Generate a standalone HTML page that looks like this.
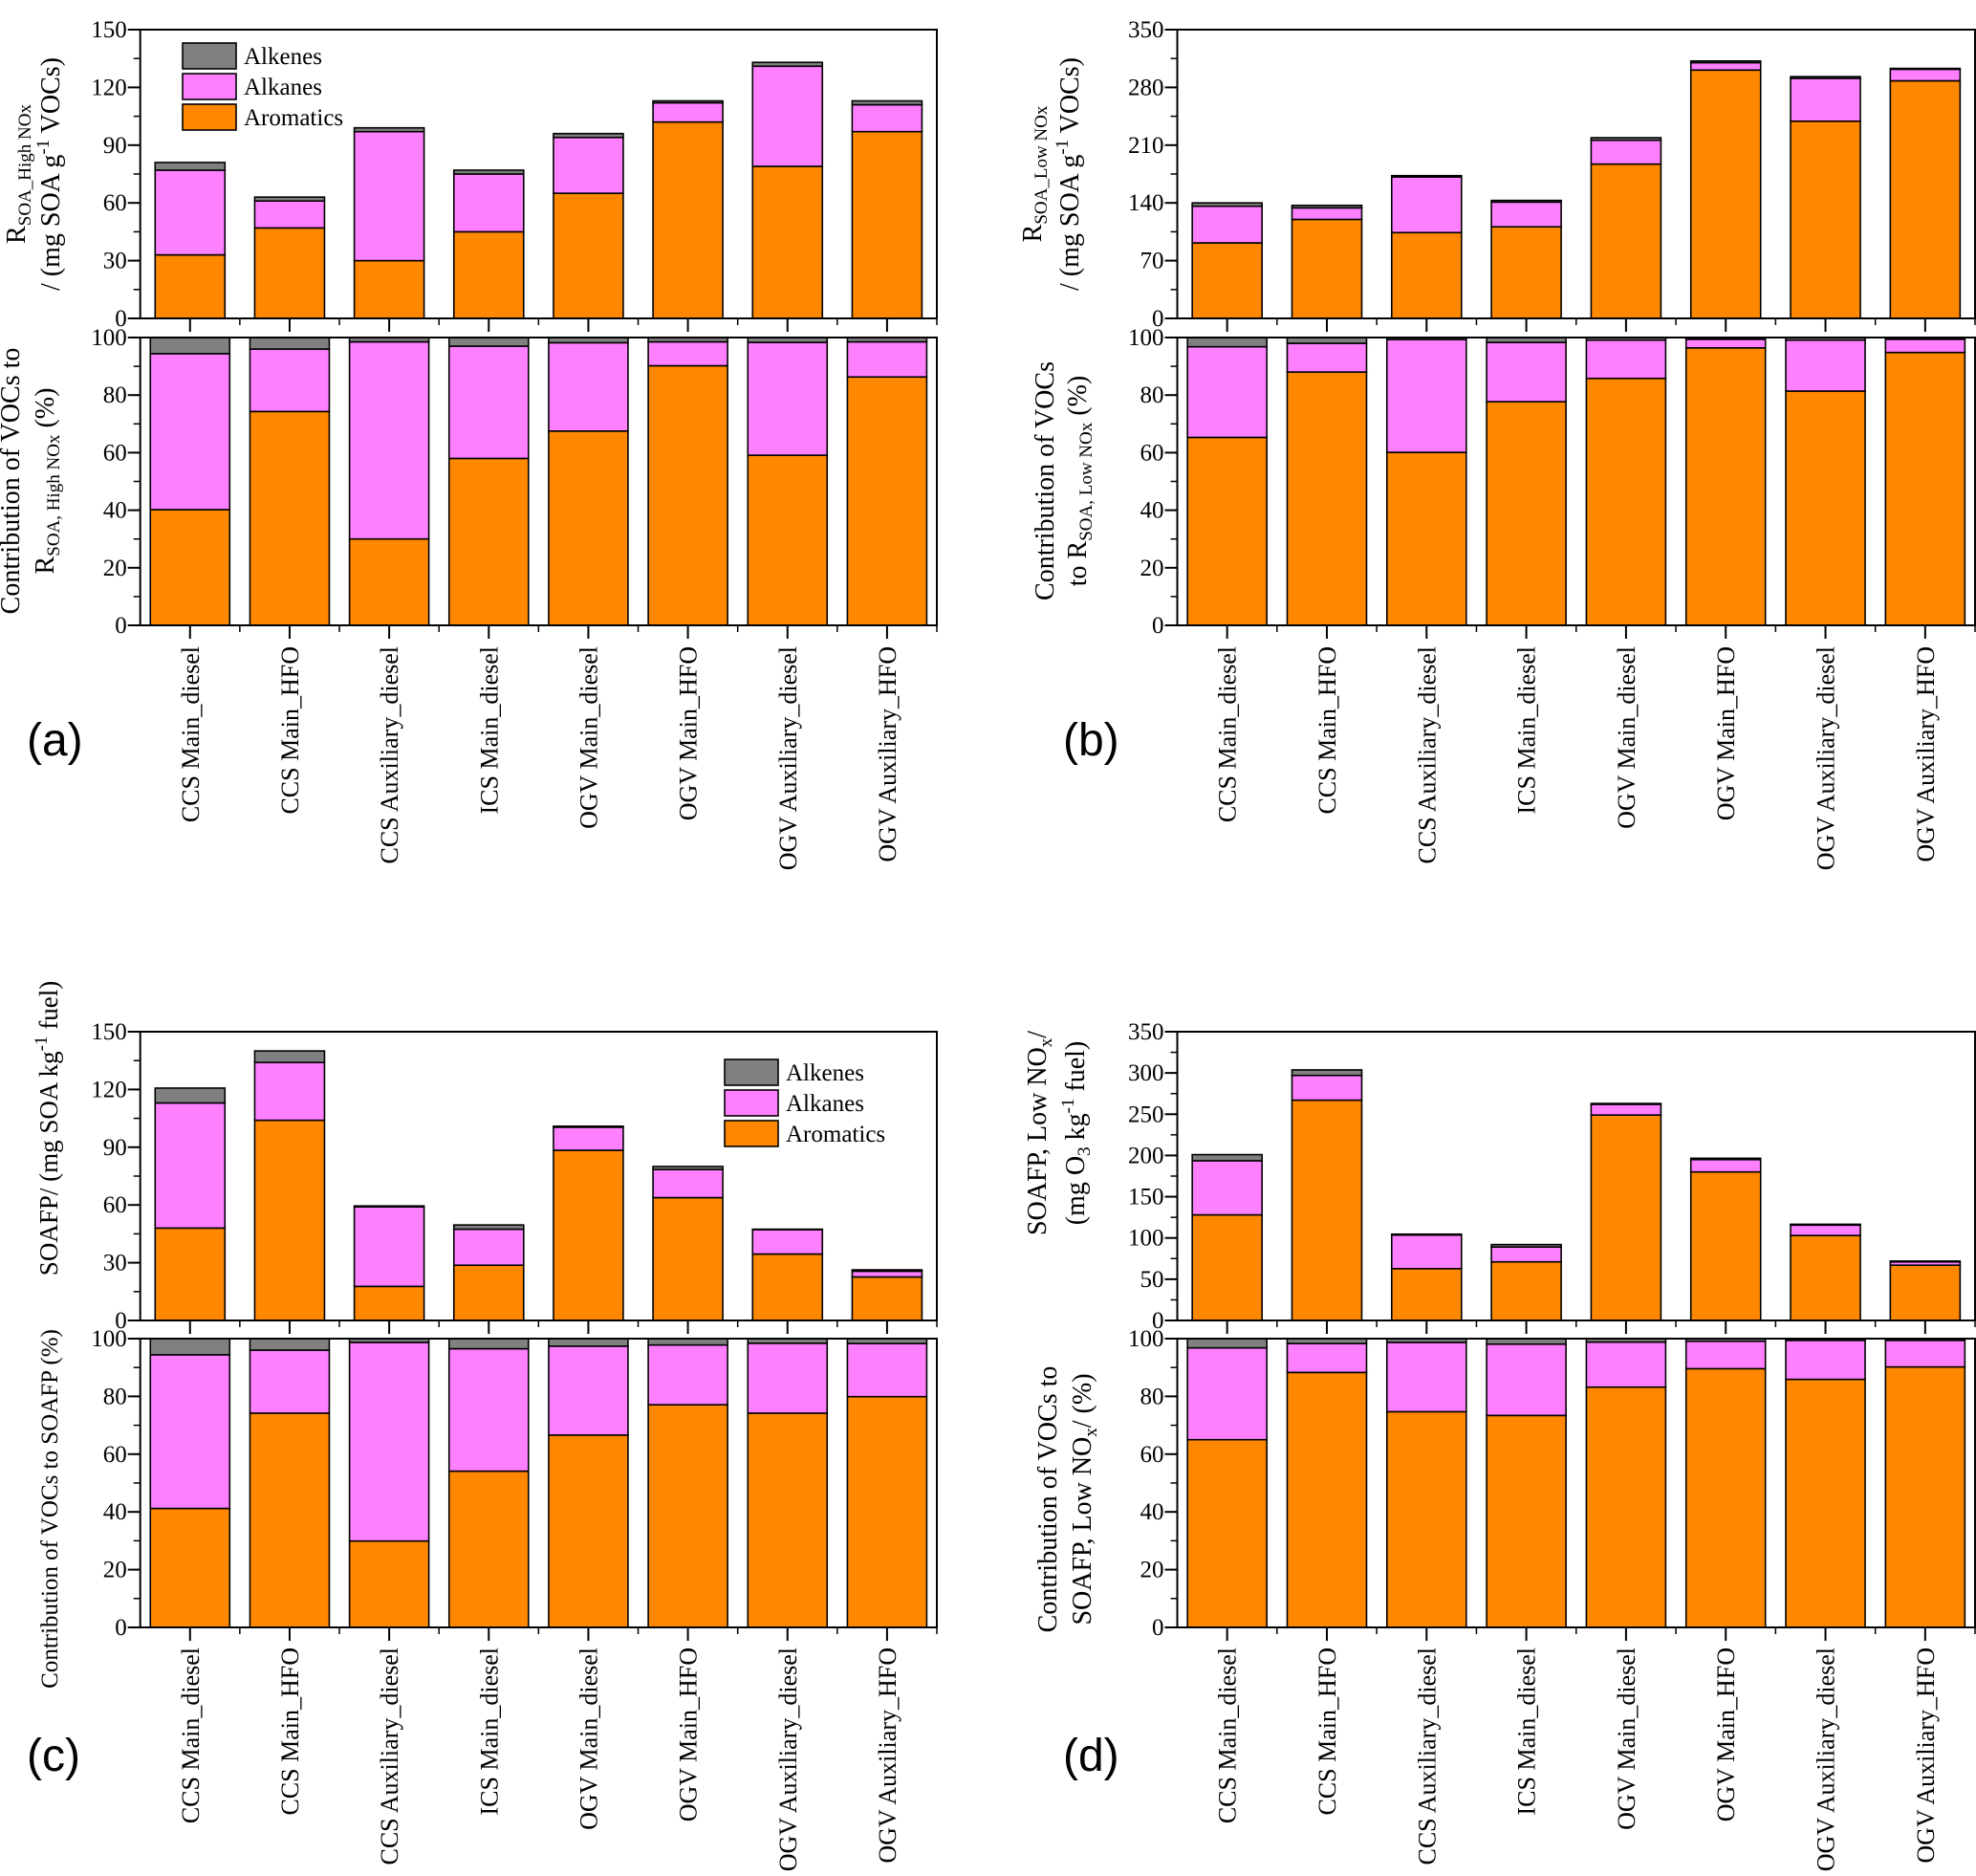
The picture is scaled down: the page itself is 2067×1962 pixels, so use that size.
<!DOCTYPE html>
<html><head><meta charset="utf-8"><style>
html,body{margin:0;padding:0;background:#fff;}
svg{display:block;font-family:"Liberation Serif",serif;}
</style></head><body>
<svg id="chart" width="2067" height="1962" viewBox="0 0 2067 1962" xmlns="http://www.w3.org/2000/svg">
<g id="root"></g>
</svg>
<script>
const categories = ["CCS Main_diesel","CCS Main_HFO","CCS Auxiliary_diesel","ICS Main_diesel","OGV Main_diesel","OGV Main_HFO","OGV Auxiliary_diesel","OGV Auxiliary_HFO"];
// Panel (a) top: absolute values (aromatics, alkanes, alkenes)
const aTopArom = [33,47,30,45,65,102,79,97];
const aTopAlk  = [44,14,67,30,29,10,52,14];
const aTopAlke = [4,2,2,2,2,1,2,2];
// Panel (a) bottom: percentages
const aBotArom = [40.2,74.3,30,58,67.5,90.2,59.1,86.3];
const aBotAlk  = [54.2,21.7,68.5,39,30.7,8.3,39.2,12.2];
const aBotAlke = [5.6,4,1.5,3,1.8,1.5,1.7,1.5];
// Panel (b)
const bTopArom = [91.5,120,104,111,187,301,239,288];
const bTopAlk  = [44.5,14,67.5,30,29,9,52,14];
const bTopAlke = [4,3,1.5,2,3,2,2,1];
const bBotArom = [65.3,88,60.1,77.7,85.8,96.4,81.4,94.8];
const bBotAlk  = [31.5,10,39.2,20.6,13.3,3,17.7,4.6];
const bBotAlke = [3.2,2,0.7,1.7,0.9,0.6,0.9,0.6];
// Panel (c)
const cTopArom = [48,104,17.7,28.7,88.4,63.8,34.5,22.6];
const cTopAlk  = [65,30,41.3,18.7,12,14.6,12.7,3];
const cTopAlke = [7.7,6,0.5,2.2,0.5,1.6,0.2,0.7];
const cBotArom = [41.2,74.2,29.9,54.1,66.6,77.1,74.2,79.9];
const cBotAlk  = [53.2,21.8,68.8,42.4,30.8,20.7,24.2,18.4];
const cBotAlke = [5.6,4,1.3,3.5,2.6,2.2,1.6,1.7];
// Panel (d)
const dTopArom = [128,267,62.8,71,249,180,103,67];
const dTopAlk  = [65.6,30,40.8,18,13,15,12.6,4];
const dTopAlke = [7.4,6.7,1,3,1,1.6,1,1];
const dBotArom = [65,88.3,74.7,73.4,83.2,89.6,85.9,90.2];
const dBotAlk  = [31.8,10,24,24.7,15.6,9.5,13.5,9.2];
const dBotAlke = [3.2,1.7,1.3,1.9,1.2,0.9,0.6,0.6];

const ticks150 = [0,30,60,90,120,150];
const ticks350b = [0,70,140,210,280,350];
const ticks350d = [0,50,100,150,200,250,300,350];
const ticks100 = [0,20,40,60,80,100];

const NS="http://www.w3.org/2000/svg";
const root=document.getElementById('root');
const COL={arom:"#FF8800",alk:"#FF80FF",alke:"#808080"};
function el(tag,attrs,parent){const e=document.createElementNS(NS,tag);for(const k in attrs)e.setAttribute(k,attrs[k]);(parent||root).appendChild(e);return e;}

function plot(name,x0,x1,yTop,yBot,max,ticks,minorStep,arom,alk,alke,barW){
  const g=el('g',{});
  
  
  const ys=v=>yBot-(v/max)*(yBot-yTop);
  const band=(x1-x0)/categories.length;
  const xc=i=>x0+band*(i+0.5);
  for(let i=0;i<categories.length;i++){
    const segs=[[arom[i],COL.arom,'aromatics'],[alk[i],COL.alk,'alkanes'],[alke[i],COL.alke,'alkenes']];
    let base=0;
    segs.forEach(s=>{
      const r=el('rect',{x:xc(i)-barW/2,y:ys(base+s[0]),width:barW,height:Math.max(0,ys(base)-ys(base+s[0])),fill:s[1],stroke:'#000','stroke-width':1.6},g);
      
      
      base+=s[0];
    });
  }
  const fr=el('rect',{x:x0,y:yTop,width:x1-x0,height:yBot-yTop,fill:'none',stroke:'#000','stroke-width':2},g);
  
  
  for(let v=0;v<=max+1e-6;v+=minorStep){el('line',{x1:x0-7,x2:x0,y1:ys(v),y2:ys(v),stroke:'#000','stroke-width':1.5},g);}
  ticks.forEach(t=>{
    el('line',{x1:x0-13,x2:x0,y1:ys(t),y2:ys(t),stroke:'#000','stroke-width':2},g);
    const tx=el('text',{x:x0-14,y:ys(t)+8,'text-anchor':'end','font-size':25},g);
    tx.textContent=t;
    
    
  });
  for(let i=0;i<categories.length;i++){
    el('line',{x1:xc(i),x2:xc(i),y1:yBot,y2:yBot+14,stroke:'#000','stroke-width':2},g);
    el('line',{x1:x0+band*(i+1),x2:x0+band*(i+1),y1:yBot,y2:yBot+7,stroke:'#000','stroke-width':1.5},g);
  }
  return {xc};
}

function catLabels(xc,yStart){
  categories.forEach((c,i)=>{
    const t=el('text',{x:0,y:0,'text-anchor':'end','font-size':26,transform:`translate(${xc(i)+9},${yStart}) rotate(-90)`});
    t.textContent=c;
    
    
  });
}

function rotText(x,y,html,name,size){
  const t=el('text',{x:0,y:0,'text-anchor':'middle','font-size':size||28,transform:`translate(${x},${y}) rotate(-90)`});
  t.innerHTML=html;
  
  
}
const sub=s=>`<tspan font-size="19" baseline-shift="-30%">${s}</tspan>`;
const sup=s=>`<tspan font-size="19" baseline-shift="60%">${s}</tspan>`;

function legend(x,y){
  const g=el('g',{});
  
  
  [["Alkenes",COL.alke],["Alkanes",COL.alk],["Aromatics",COL.arom]].forEach((e,i)=>{
    const r=el('rect',{x:x,y:y+i*32,width:56,height:27,fill:e[1],stroke:'#000','stroke-width':1.6},g);
    
    
    const t=el('text',{x:x+64,y:y+i*32+22,'font-size':25},g);
    t.textContent=e[0];
    
    
  });
}

function panelLabel(x,y,s){
  const t=el('text',{x:x,y:y,'font-size':48,'font-family':'"Liberation Sans",sans-serif'});
  t.textContent=s;
  
  
}

const L1=146.7,R1=980,L2=1231.5,R2=2066;
const T1=31,B1=333,T2=353,B2=654;
const T3=1079,B3=1381,T4=1400,B4=1702;

// Panel a
let p=plot('panel-a-top',L1,R1,T1,B1,150,ticks150,15,aTopArom,aTopAlk,aTopAlke,73);
plot('panel-a-bottom',L1,R1,T2,B2,100,ticks100,10,aBotArom,aBotAlk,aBotAlke,83);
catLabels(p.xc,676);
legend(191,45);
rotText(26,182,'R'+sub('SOA_High NOx'),'y-axis-title-a-top');
rotText(62,182,'/ (mg SOA g'+sup('-1')+' VOCs)','y-axis-title-a-top-2');
rotText(20,503,'Contribution of VOCs to','y-axis-title-a-bottom');
rotText(56,503,'R'+sub('SOA, High NOx')+' (%)','y-axis-title-a-bottom-2');
panelLabel(28,790,'(a)');

// Panel b
p=plot('panel-b-top',L2,R2,T1,B1,350,ticks350b,35,bTopArom,bTopAlk,bTopAlke,73);
plot('panel-b-bottom',L2,R2,T2,B2,100,ticks100,10,bBotArom,bBotAlk,bBotAlke,83);
catLabels(p.xc,676);
rotText(1089,182,'R'+sub('SOA_Low NOx'),'y-axis-title-b-top');
rotText(1128,182,'/ (mg SOA g'+sup('-1')+' VOCs)','y-axis-title-b-top-2');
rotText(1102,503,'Contribution of VOCs','y-axis-title-b-bottom');
rotText(1136,503,'to R'+sub('SOA, Low NOx')+' (%)','y-axis-title-b-bottom-2');
panelLabel(1112,790,'(b)');

// Panel c
p=plot('panel-c-top',L1,R1,T3,B3,150,ticks150,15,cTopArom,cTopAlk,cTopAlke,73);
plot('panel-c-bottom',L1,R1,T4,B4,100,ticks100,10,cBotArom,cBotAlk,cBotAlke,83);
catLabels(p.xc,1723);
legend(758,1108);
rotText(60,1180,'SOAFP/ (mg SOA kg'+sup('-1')+' fuel)','y-axis-title-c-top',27);
rotText(60,1578,'Contribution of VOCs to SOAFP (%)','y-axis-title-c-bottom',25);
panelLabel(28,1852,'(c)');

// Panel d
p=plot('panel-d-top',L2,R2,T3,B3,350,ticks350d,25,dTopArom,dTopAlk,dTopAlke,73);
plot('panel-d-bottom',L2,R2,T4,B4,100,ticks100,10,dBotArom,dBotAlk,dBotAlke,83);
catLabels(p.xc,1723);
rotText(1094,1185,'SOAFP, Low NO'+sub('x')+'/','y-axis-title-d-top');
rotText(1134,1185,'(mg O'+sub('3')+' kg'+sup('-1')+' fuel)','y-axis-title-d-top-2');
rotText(1105,1568,'Contribution of VOCs to','y-axis-title-d-bottom');
rotText(1141,1568,'SOAFP, Low NO'+sub('x')+'/ (%)','y-axis-title-d-bottom-2');
panelLabel(1112,1852,'(d)');
</script>
</body></html>
